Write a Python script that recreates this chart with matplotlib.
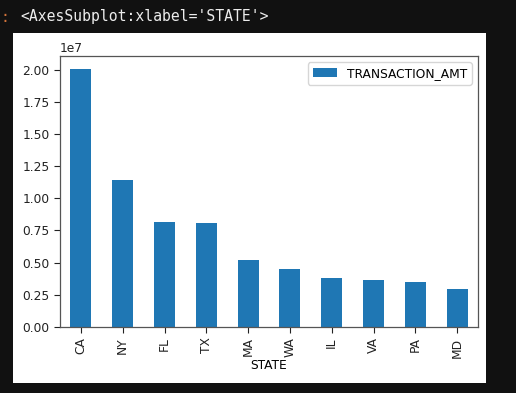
import matplotlib
matplotlib.use("Agg")
import matplotlib.pyplot as plt
from matplotlib.patches import Rectangle

states = ["CA", "NY", "FL", "TX", "MA", "WA", "IL", "VA", "PA", "MD"]
transaction_amt = [2.005e7, 1.145e7, 0.816e7, 0.806e7, 0.517e7, 0.447e7, 0.380e7, 0.362e7, 0.351e7, 0.292e7]

W, H = 516, 393
dpi = 100
fs = 8.8
fig = plt.figure(figsize=(W / dpi, H / dpi), dpi=dpi, facecolor="#111111")

# white output area
fig.patches.append(Rectangle((13 / W, (H - 383) / H), 473 / W, 350 / H,
                             transform=fig.transFigure, facecolor="white",
                             edgecolor="none", zorder=-5))

fig.text(20 / W, 1 - 16 / H, "<AxesSubplot:xlabel='STATE'>", family="DejaVu Sans Mono",
         fontsize=10.6, color="#ececec", va="center", ha="left")
fig.text(0 / W, 1 - 17 / H, ":", family="DejaVu Sans Mono",
         fontsize=10.6, color="#d2733a", va="center", ha="left")

ax = fig.add_axes([60 / W, (H - 327) / H, 418 / W, 271 / H])
ax.set_facecolor("white")
x = list(range(len(states)))
ax.bar(x, transaction_amt, width=0.5, color="#1f77b4", label="TRANSACTION_AMT")
ax.set_xlim(-0.5, len(states) - 0.5)
ax.set_ylim(0, max(transaction_amt) * 1.05)
ax.set_xticks(x)
ax.set_xticklabels(states, rotation=90)
ax.set_yticks([0, 0.25e7, 0.5e7, 0.75e7, 1.0e7, 1.25e7, 1.5e7, 1.75e7, 2.0e7])
ax.tick_params(labelsize=fs, colors="#222222", length=4)
ax.yaxis.get_offset_text().set_fontsize(fs)
ax.set_xlabel("STATE", fontsize=fs, labelpad=1)
for s in ax.spines.values():
    s.set_color("#555555")
    s.set_linewidth(0.9)
ax.legend(loc="upper right", fontsize=fs, frameon=True)

fig.savefig("out.png", dpi=dpi, facecolor=fig.get_facecolor())
